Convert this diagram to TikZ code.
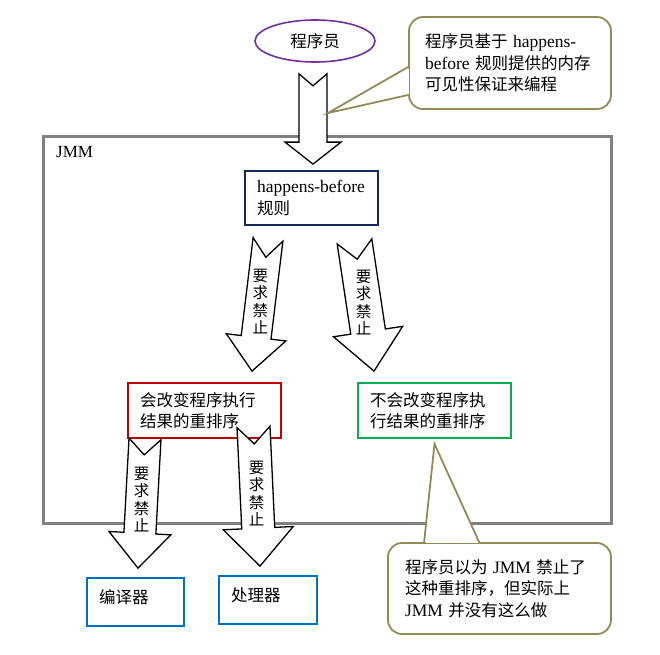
\documentclass[tikz,border=0pt]{standalone}
\usepackage{fontspec}
\setmainfont{Liberation Serif}
\newfontfamily\zh{Noto Sans CJK SC}
\usepackage{xcolor}
\usetikzlibrary{calc,positioning,shapes.geometric}

\definecolor{progpurple}{HTML}{7030A0}
\definecolor{noteolive}{HTML}{948A54}
\definecolor{hbnavy}{HTML}{102A5C}
\definecolor{reorderred}{HTML}{C00000}
\definecolor{reordergreen}{HTML}{00B050}
\definecolor{hwblue}{HTML}{0070C0}
\definecolor{framegray}{HTML}{808080}

\newcommand\lat[1]{{\rmfamily\fontsize{17.5}{21.5}\selectfont #1}}
\newcommand\cnfont{\zh\fontsize{16.5}{21.5}\selectfont}

% notched block arrow: tail, tip, half shaft, half head, head length, notch depth
\newcommand\notcharrow[6]{%
  \coordinate (na-h) at ($(#2)!#5!(#1)$);
  \coordinate (na-n) at ($(#1)!#6!(#2)$);
  \filldraw[bigarrow] ($(#1)!#3!90:(#2)$) -- (na-n) -- ($(#1)!#3!-90:(#2)$)
    -- ($(na-h)!#3!-90:(#2)$) -- ($(na-h)!#4!-90:(#2)$) -- (#2)
    -- ($(na-h)!#4!90:(#2)$) -- ($(na-h)!#3!90:(#2)$) -- cycle;
}

\tikzset{
  bigarrow/.style={draw=black, fill=white, line width=1.3pt, line join=miter},
  textbox/.style={draw, fill=white, line width=1.8pt, inner xsep=12pt, inner ysep=0pt, align=left, font=\cnfont},
  callbox/.style={draw=noteolive, fill=white, line width=1.8pt, rounded corners=14pt, inner xsep=16pt, inner ysep=0pt, align=left, font=\cnfont},
  callline/.style={draw=noteolive, line width=1.8pt, line join=miter},
  vlabel/.style={align=center, inner sep=0pt, font=\zh\fontsize{15.5}{17.5}\selectfont},
  jmmframe/.style={draw=framegray, line width=3pt}
}

\begin{document}
\begin{tikzpicture}[x=1pt,y=-1pt]
\useasboundingbox (0,0) rectangle (660,654);
% JMM frame
\draw[jmmframe] (43,136) rectangle (611,523);
\node[anchor=base west, inner sep=0pt, font=\fontsize{17}{18}\selectfont] (jmm) at (56,157) {JMM};

% boxes
\node[ellipse, draw=progpurple, line width=1.6pt, minimum width=120pt, minimum height=42pt, font=\cnfont] (prog) at (315,41) {程序员};
\node[textbox, draw=hbnavy, minimum width=133pt, minimum height=54pt, text width=109pt] (hb) at (311.5,198) {\lat{\mbox{happens-before}}\\规则};
\node[textbox, draw=reorderred, minimum width=153pt, minimum height=55pt, text width=129pt] (chg) at (204.5,410.5) {会改变程序执行\\结果的重排序};
\node[textbox, draw=reordergreen, minimum width=153pt, minimum height=55pt, text width=129pt] (nochg) at (434.5,410.5) {不会改变程序执\\行结果的重排序};
\node[textbox, draw=hwblue, minimum width=97pt, minimum height=48pt, text width=73pt, text depth=11pt] (comp) at (135.5,602) {编译器};
\node[textbox, draw=hwblue, minimum width=98pt, minimum height=48pt, text width=74pt, text depth=11pt] (cpu) at (268,600) {处理器};

% block arrows
\coordinate (a0s) at ([xshift=-2pt,yshift=-11pt]prog.south);
\coordinate (a0e) at ([xshift=1.5pt,yshift=6pt]hb.north);
\notcharrow{a0s}{a0e}{14pt}{28pt}{22pt}{12pt}

\coordinate (a1s) at ([xshift=-43.5pt,yshift=-13.5pt]hb.south);
\coordinate (a1e) at ([xshift=47.5pt,yshift=11pt]chg.north);
\notcharrow{a1s}{a1e}{15pt}{30pt}{34pt}{18pt}
\node[vlabel] (l1) at ($(a1s)!0.47!(a1e)$) {要\\求\\禁\\止};

\coordinate (a2s) at ([xshift=43pt,yshift=-15.5pt]hb.south);
\coordinate (a2e) at ([xshift=-60.5pt,yshift=11pt]nochg.north);
\notcharrow{a2s}{a2e}{17.5pt}{35pt}{40pt}{18pt}
\node[vlabel] (l2) at ($(a2s)!0.47!(a2e)$) {要\\求\\禁\\止};

\coordinate (a3s) at ([xshift=-59.5pt]chg.south);
\coordinate (a3e) at ([xshift=2.5pt,yshift=9pt]comp.north);
\notcharrow{a3s}{a3e}{16pt}{31pt}{35pt}{16pt}
\node[vlabel] (l3) at ($(a3s)!0.47!(a3e)$) {要\\求\\禁\\止};

\coordinate (a4s) at ([xshift=49pt,yshift=12pt]chg.south);
\coordinate (a4e) at ([xshift=-8pt,yshift=9pt]cpu.north);
\notcharrow{a4s}{a4e}{16.5pt}{35pt}{38pt}{17pt}
\node[vlabel] (l4) at ($(a4s)!0.48!(a4e)$) {要\\求\\禁\\止};

% callouts
\node[callbox, minimum width=202pt, minimum height=92pt, text width=170pt] (note1) at (510,63)
  {程序员基于 \lat{happens-}\\\lat{before} 规则提供的内存\\可见性保证来编程};
\coordinate (n1a) at ([yshift=-4pt]note1.west); \coordinate (n1b) at ([yshift=-32pt]note1.west);
\coordinate (n1tip) at (328,113);
\fill[white] (n1a) -- (n1tip) -- (n1b) -- cycle;
\draw[white, line width=2.6pt] ([yshift=-1.5pt]n1a) -- ([yshift=1.5pt]n1b);
\draw[callline] (n1a) -- (n1tip) -- (n1b);

\node[callbox, minimum width=223pt, minimum height=91pt, text width=189pt] (note2) at (499.5,588.5)
  {程序员以为 \lat{JMM} 禁止了\\这种重排序，但实际上\\\lat{JMM} 并没有这么做};
\coordinate (n2a) at ([xshift=37pt]note2.north west); \coordinate (n2b) at ([xshift=92pt]note2.north west);
\coordinate (n2tip) at ([yshift=-5pt]nochg.south);
\fill[white] (n2a) -- (n2tip) -- (n2b) -- cycle;
\draw[white, line width=2.6pt] ([xshift=1.5pt]n2a) -- ([xshift=-1.5pt]n2b);
\draw[callline] (n2a) -- (n2tip) -- (n2b);
\end{tikzpicture}
\end{document}
